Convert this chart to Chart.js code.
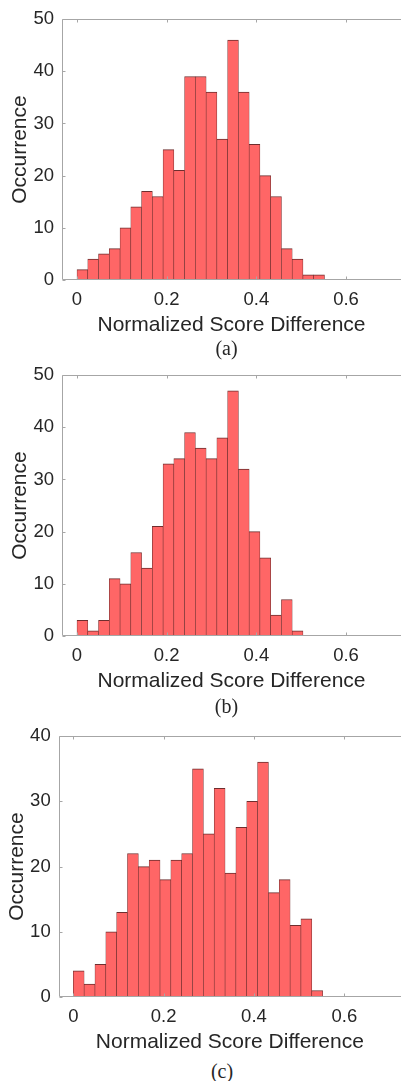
<!DOCTYPE html>
<html>
<head>
<meta charset="utf-8">
<script src="https://cdn.jsdelivr.net/npm/chart.js@4.4.1/dist/chart.umd.min.js"></script>
<style>
  body { margin: 0; background: #fff; width: 401px; height: 1081px; position: relative; overflow: hidden; }
  .panel { position: absolute; left: 0; }
  .cap {
    position: absolute;
    font-family: "Liberation Serif", "Times New Roman", serif;
    font-size: 20px;
    color: #262626;
    line-height: 1;
    transform: translate(-50%, -50%);
  }
</style>
</head>
<body>
<canvas class="panel" id="chartA" width="401" height="338" style="top:0"></canvas>
<canvas class="panel" id="chartB" width="401" height="338" style="top:356px"></canvas>
<canvas class="panel" id="chartC" width="401" height="338" style="top:717px"></canvas>
<div class="cap" id="capA" style="left:226.5px; top:348px"></div>
<div class="cap" id="capB" style="left:226.5px; top:706px"></div>
<div class="cap" id="capC" style="left:222px; top:1071px"></div>
<script>
// histogram counts, bin width 0.024 starting at 0
const binWidth = 0.024;
const countsA = [2, 4, 5, 6, 10, 14, 17, 16, 25, 21, 39, 39, 36, 27, 46, 36, 26, 20, 16, 6, 4, 1, 1];
const countsB = [3, 1, 3, 11, 10, 16, 13, 21, 33, 34, 39, 36, 34, 38, 47, 32, 20, 15, 4, 7, 1];
const countsC = [4, 2, 5, 10, 13, 22, 20, 21, 18, 21, 22, 35, 25, 32, 19, 26, 30, 36, 16, 18, 11, 12, 1];

const xTicks = [0, 0.2, 0.4, 0.6];
const yTicksAB = [0, 10, 20, 30, 40, 50];
const yTicksC = [0, 10, 20, 30, 40];
const captions = ['(a)', '(b)', '(c)'];
const xTitle = 'Normalized Score Difference';
const yTitle = 'Occurrence';

const textColor = '#262626';
const axisColor = '#a6a6a6';
const sans = '"Liberation Sans", Arial, sans-serif';

// box lines on left / bottom / top with inward tick marks, MATLAB style
const frame = {
    id: 'frame',
    afterDatasetsDraw(chart) {
        const { ctx, chartArea: a, scales: { x, y } } = chart;
        const L = Math.round(a.left) + 0.5, T = Math.round(a.top) + 0.5, B = Math.round(a.bottom) - 0.5;
        const R = a.right;
        ctx.save();
        ctx.strokeStyle = axisColor;
        ctx.lineWidth = 1;
        ctx.beginPath();
        ctx.moveTo(R, T); ctx.lineTo(L, T); ctx.lineTo(L, B); ctx.lineTo(R, B);
        x.ticks.forEach(t => {
            const px = Math.round(x.getPixelForValue(t.value)) + 0.5;
            ctx.moveTo(px, B); ctx.lineTo(px, B - 3);
            ctx.moveTo(px, T); ctx.lineTo(px, T + 3);
        });
        y.ticks.forEach(t => {
            const py = Math.round(y.getPixelForValue(t.value)) + 0.5;
            ctx.moveTo(L, py); ctx.lineTo(L + 3, py);
        });
        ctx.stroke();
        ctx.restore();
    }
};

function makeHist(id, counts, yTicks, opts) {
    const last = counts.length - 1;
    const ctx = document.getElementById(id).getContext('2d');
    return new Chart(ctx, {
        type: 'bar',
        data: {
            datasets: [{
                data: counts.map((c, i) => ({ x: (i + 0.5) * binWidth, y: c })),
                backgroundColor: '#ff6666',
                borderColor: '#6e2e2e',
                borderWidth: { top: 1, left: 0.6, right: 0.6, bottom: 0 },
                borderSkipped: false,
                barPercentage: 1,
                categoryPercentage: 1
            }]
        },
        options: {
            responsive: false,
            animation: false,
            layout: { padding: { top: 15, right: 0, bottom: 0, left: 0 } },
            plugins: { legend: { display: false }, tooltip: { enabled: false } },
            scales: {
                x: {
                    type: 'linear',
                    min: opts.xMin,
                    max: opts.xMax,
                    offset: false,
                    grid: { display: false, drawTicks: false, tickLength: 0 },
                    border: { display: false },
                    afterBuildTicks: s => { s.ticks = xTicks.map(v => ({ value: v })); },
                    afterFit: s => { s.height = 58; },
                    ticks: {
                        padding: 8.6,
                        color: textColor,
                        maxRotation: 0,
                        autoSkip: false,
                        font: { family: sans, size: 18.5 },
                        callback: v => String(v)
                    },
                    title: {
                        display: true,
                        text: xTitle,
                        color: textColor,
                        padding: { top: 0, bottom: 0 },
                        font: { family: sans, size: 21 }
                    }
                },
                y: {
                    min: 0,
                    max: yTicks[yTicks.length - 1],
                    grid: { display: false, drawTicks: false, tickLength: 0 },
                    border: { display: false },
                    afterBuildTicks: s => { s.ticks = yTicks.map(v => ({ value: v })); },
                    afterFit: s => { s.width = opts.yWidth; },
                    ticks: {
                        padding: 8,
                        color: textColor,
                        font: { family: sans, size: 18.5 }
                    },
                    title: {
                        display: true,
                        text: yTitle,
                        color: textColor,
                        padding: { top: opts.yTitlePad, bottom: 0 },
                        font: { family: sans, size: 21 }
                    }
                }
            }
        },
        plugins: [frame]
    });
}

document.getElementById('capA').textContent = captions[0];
document.getElementById('capB').textContent = captions[1];
document.getElementById('capC').textContent = captions[2];

makeHist('chartA', countsA, yTicksAB, { xMin: -0.0335, xMax: 0.7227, yWidth: 62, yTitlePad: 7.4 });
makeHist('chartB', countsB, yTicksAB, { xMin: -0.0335, xMax: 0.7227, yWidth: 62, yTitlePad: 7.4 });
makeHist('chartC', countsC, yTicksC, { xMin: -0.0323, xMax: 0.7255, yWidth: 58.7, yTitlePad: 4.6 });
</script>
</body>
</html>
